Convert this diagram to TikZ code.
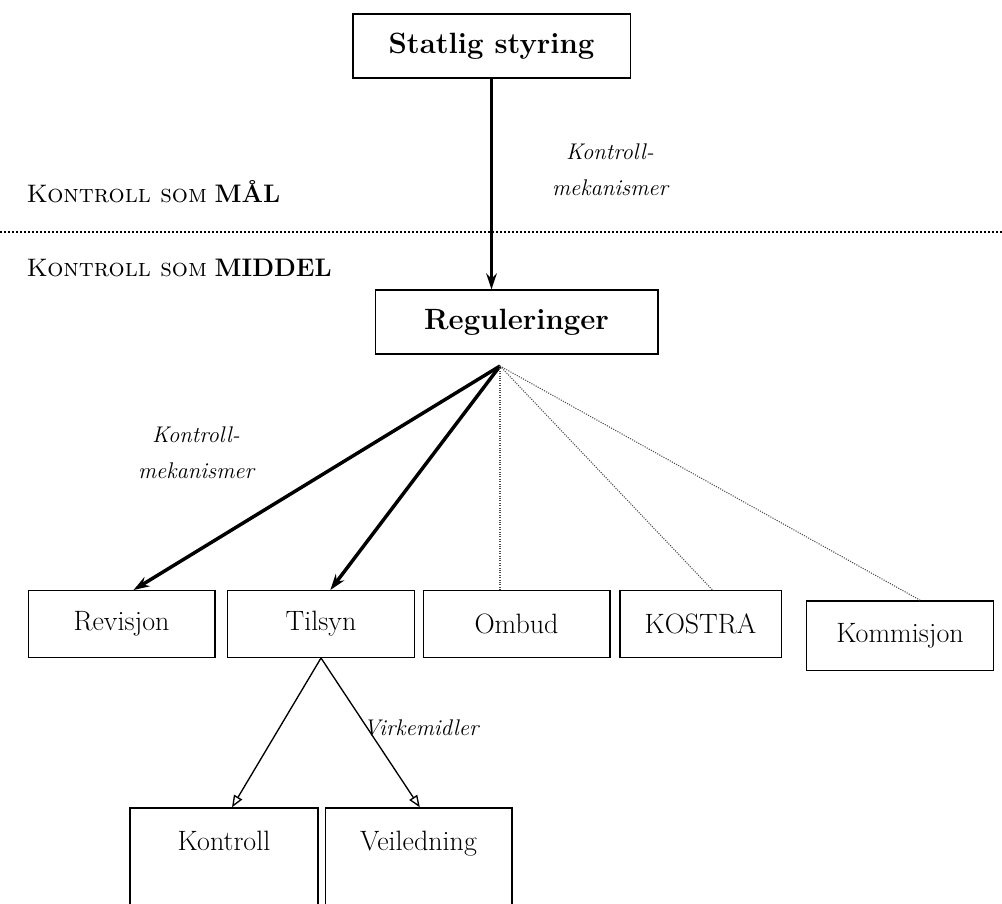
\documentclass[tikz,border=0pt]{standalone}
\usepackage{fontspec}
\usetikzlibrary{positioning}
\usetikzlibrary{arrows.meta, calc}

\begin{document}
\begin{tikzpicture}[x=0.75pt,y=-0.75pt]

 \tikzset{box/.style={
 		draw, line width=1pt,
 		minimum width=#1,
 		minimum height=50pt,
 		anchor=center,
 		inner sep=0pt,
 		font=\fontsize{21}{25}\selectfont
 	},
 	box/.default=140pt,
 	headbox/.style={box=#1, minimum height=48pt, font=\fontsize{22}{26}\selectfont\bfseries},
 	lowbox/.style={box=#1, minimum height=90pt, text height=16pt, text depth=43pt},
 	heavy/.style={line width=2.6pt, -{Stealth[length=12pt,width=8pt]}},
 	light/.style={line width=1pt, -{Triangle[open,length=9pt,width=7pt]}},
 	faint/.style={line width=0.8pt, densely dotted, black!70},
 	mech/.style={font=\fontsize{17}{27}\selectfont\itshape, align=center},
 	zone/.style={anchor=west, font=\fontsize{19}{22}\selectfont}
 }
 \clip (0,0) rectangle (1002,903);

 % top levels
 \node[headbox=208pt] (stat) at (491.5,46) {Statlig styring};
 \node[headbox=212pt] (reg) at (516.5,322) {Reguleringer};

 % divider
 \coordinate (dl) at (0,232);
 \coordinate (dr) at (1002,232);
 \draw[line width=1.6pt, dash pattern=on 1.6pt off 1.4pt] (dl) -- (dr);
 \node[zone] (maal) at (22,192) {\textsc{Kontroll som} \textbf{MÅL}};
 \node[zone] (middel) at (22,268) {\textsc{Kontroll som} \textbf{MIDDEL}};

 % control bodies
 \node[box] (rev) at (121.5,624) {Revisjon};
 \node[box] (til) at (321,624) {Tilsyn};
 \node[box] (omb) at (516.5,624) {Ombud};
 \node[box=121pt] (kos) at (700.5,624) {KOSTRA};
 \node[box, minimum height=52pt] (kom) at (900,635.5) {Kommisjon};

 % instruments
 \node[lowbox=141pt] (kon) at (224,868) {Kontroll};
 \node[lowbox=140pt] (vei) at (418.5,868) {Veiledning};

 \coordinate (hub) at (500,366);

 \draw[heavy] (stat.south) -- (stat.south |- reg.north);
 \node[mech] (mech1) at (610,170) {Kontroll-\\mekanismer};

 \draw[heavy] (hub) -- ([xshift=9pt]rev.north);
 \draw[heavy] (hub) -- ([xshift=7pt]til.north);
 \draw[faint] (hub) -- (hub |- omb.north);
 \draw[faint] (hub) -- ([xshift=9pt]kos.north);
 \draw[faint] (hub) -- ([xshift=15pt]kom.north);
 \node[mech] (mech2) at (196,453) {Kontroll-\\mekanismer};

 \draw[light] (til.south) -- ([xshift=6pt]kon.north);
 \draw[light] (til.south) -- ([xshift=1pt]vei.north);
 \node[mech] (virk) at (421,728) {Virkemidler};

\end{tikzpicture}
\end{document}
